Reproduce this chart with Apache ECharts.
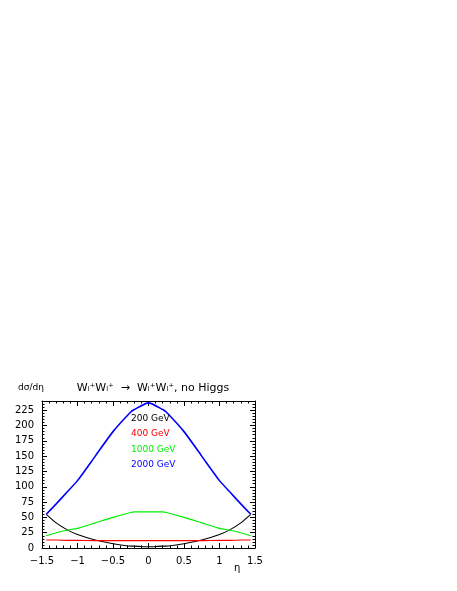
<!DOCTYPE html>
<html><head><meta charset="utf-8">
<script src="https://cdn.jsdelivr.net/npm/echarts@6/dist/echarts.min.js"></script>
<style>html,body{margin:0;background:#fff}#c{width:457px;height:591px}</style>
</head><body><div id="c"></div>
<script>
var eta = [-1.44, -1.3, -1.15, -1, -0.75, -0.5, -0.25, -0.2, 0, 0.2, 0.25, 0.5, 0.75, 1, 1.15, 1.3, 1.44];
var s200 = [55, 41, 30, 22, 13, 7, 3, 3, 2, 3, 3, 7, 13, 22, 30, 41, 55];
var s400 = [13, 13, 12.5, 12.5, 12, 12, 12, 12, 12, 12, 12, 12, 12, 12.5, 12.5, 13, 13];
var s1000 = [20, 25, 29, 32, 41, 50, 58, 59, 59, 59, 58, 50, 41, 32, 29, 25, 20];
var s2000 = [55, 72, 91, 110, 150, 190, 222, 226, 237, 226, 222, 190, 150, 110, 91, 72, 55];
var names = ['200 GeV', '400 GeV', '1000 GeV', '2000 GeV'];
var colors = ['#000000', '#ff0000', '#00ee00', '#0000ff'];
var all = [s200, s400, s1000, s2000];

var chart = echarts.init(document.getElementById('c'));
var lbl = {color: '#000', fontSize: 10, fontFamily: 'DejaVu Sans'};
function ax(extra) {
    return Object.assign({
        axisLine: {show: true, onZero: false, lineStyle: {color: '#000'}},
        axisTick: {show: true, inside: true, length: 5, lineStyle: {color: '#000'}},
        minorTick: {show: true, splitNumber: 5, length: 2.5, lineStyle: {color: '#000'}},
        splitLine: {show: false},
        axisLabel: lbl
    }, extra);
}
chart.setOption({
    animation: false,
    title: {
        text: 'W\u2097\u207aW\u2097\u207a  \u2192  W\u2097\u207aW\u2097\u207a, no Higgs',
        left: 148, top: 378, textAlign: 'center',
        textStyle: {fontSize: 11, fontWeight: 'normal', fontFamily: 'DejaVu Sans', color: '#000'}
    },
    graphic: [
        {type: 'text', left: 18, top: 383, style: {text: 'd\u03c3/d\u03b7', fill: '#000', font: '9px DejaVu Sans'}},
        {type: 'text', left: 234, top: 563, style: {text: '\u03b7', fill: '#000', font: '10px DejaVu Sans'}}
    ].concat(names.map(function (n, i) {
        return {type: 'text', left: 131, top: 414 + i * 15.5, style: {text: n, fill: colors[i], font: '9px DejaVu Sans'}};
    })),
    grid: {left: 42, right: 202, top: 401, bottom: 43},
    xAxis: [
        ax({type: 'value', min: -1.5, max: 1.5, interval: 0.5,
            axisLabel: Object.assign({formatter: function (v) { return String(v).replace('-', '\u2212'); }}, lbl)}),
        ax({type: 'value', position: 'top', min: -1.5, max: 1.5, interval: 0.5, axisLabel: {show: false}})
    ],
    yAxis: [
        ax({type: 'value', min: 0, max: 240, interval: 25, axisLabel: Object.assign({showMaxLabel: false}, lbl)}),
        ax({type: 'value', position: 'right', min: 0, max: 240, interval: 25, axisLabel: {show: false}})
    ],
    series: all.map(function (d, i) {
        return {
            type: 'line', name: names[i], symbol: 'none', smooth: 0.2,
            lineStyle: {color: colors[i], width: i === 3 ? 1.6 : 1.1},
            data: eta.map(function (x, j) { return [x, d[j]]; })
        };
    })
});
</script></body></html>
